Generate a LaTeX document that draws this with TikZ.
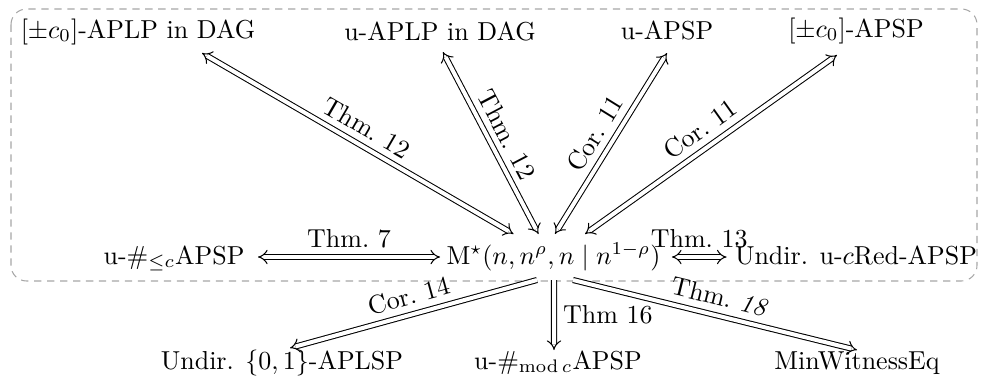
\documentclass[tikz,border=0pt]{standalone}
\usetikzlibrary{arrows.meta,calc}
\begin{document}
\begin{tikzpicture}[x=0.385pt,y=-0.385pt,
  prob/.style={anchor=base,inner sep=0pt},
  dbl/.style={double,double equal sign distance,line width=0.4pt},
  impl/.style={dbl,-{Implies}},
  rimpl/.style={dbl,{Implies}-},
  iff/.style={dbl,{Implies}-{Implies}},
  lbl/.style={inner sep=0.333em},
  groupbox/.style={draw=black!35,line width=0.4pt,dash pattern=on 2.8pt off 2.2pt,rounded corners=6pt}]
\useasboundingbox (0,0) rectangle (981,385);

% dashed frame around the upper two rows
\draw[groupbox] (11,9) rectangle (977,281);

% top row
\node[prob] (a1) at (138,38) {$[\pm c_0]$-APLP in DAG};
\node[prob] (a2) at (440,40) {u-APLP in DAG};
\node[prob] (a3) at (667,39) {u-APSP};
\node[prob] (a4) at (856,37) {$[\pm c_0]$-APSP};

% middle row
\node[prob,anchor=base east] (b1) at (245,264) {u-$\#_{\leq c}$APSP};
\node[prob] (m) at (553.5,264) {$\mathrm{M}^{\star}(n,n^{\rho},n\mid n^{1-\rho})$};
\node[prob] (b3) at (856,264) {Undir. u-$c$Red-APSP};

% bottom row
\node[prob] (c1) at (282,369) {Undir. $\{0,1\}$-APLSP};
\node[prob] (c2) at (558,369) {u-$\#_{\mathrm{mod}\,c}$APSP};
\node[prob] (c3) at (857,369) {MinWitnessEq};

% equivalences with the top row
\draw[iff] ($(a1.base)+(64,15)$) -- node[lbl,sloped,above]{Thm.~12} ($(m.base)+(-40,-30)$);
\draw[iff] ($(a2.base)+(3,12)$) -- node[lbl,sloped,above]{Thm.~12} ($(m.base)+(-15,-30)$);
\draw[iff] ($(m.base)+(1.5,-30)$) -- node[lbl,sloped,above]{Cor.~11} ($(a3.base)+(0,14)$);
\draw[iff] ($(m.base)+(31.5,-30)$) -- node[lbl,sloped,above]{Cor.~11} ($(a4.base)+(-19,18)$);

% equivalences in the middle row
\draw[iff] ($(b1.base east)+(13,-7)$) -- node[lbl,above]{Thm.~7} ($(m.base west)+(-6,-7)$);
\draw[iff] ($(m.base east)+(11,-7)$) -- node[lbl,above]{Thm.~13} ($(b3.base west)+(-8,-7)$);

% one-way reductions to the bottom row
\draw[rimpl] ($(c1.base)+(8,-21)$) -- node[lbl,sloped,above]{Cor.~14} ($(m.base)+(-16.5,16)$);
\draw[impl] ($(m.base)+(0.5,16)$) -- node[lbl,right]{Thm 16} ($(c2.base)+(-4,-19)$);
\draw[impl] ($(m.base)+(19.5,16)$) -- node[lbl,sloped,above]{Thm.~\textit{18}} ($(c3.base)+(0,-19)$);
\end{tikzpicture}
\end{document}
